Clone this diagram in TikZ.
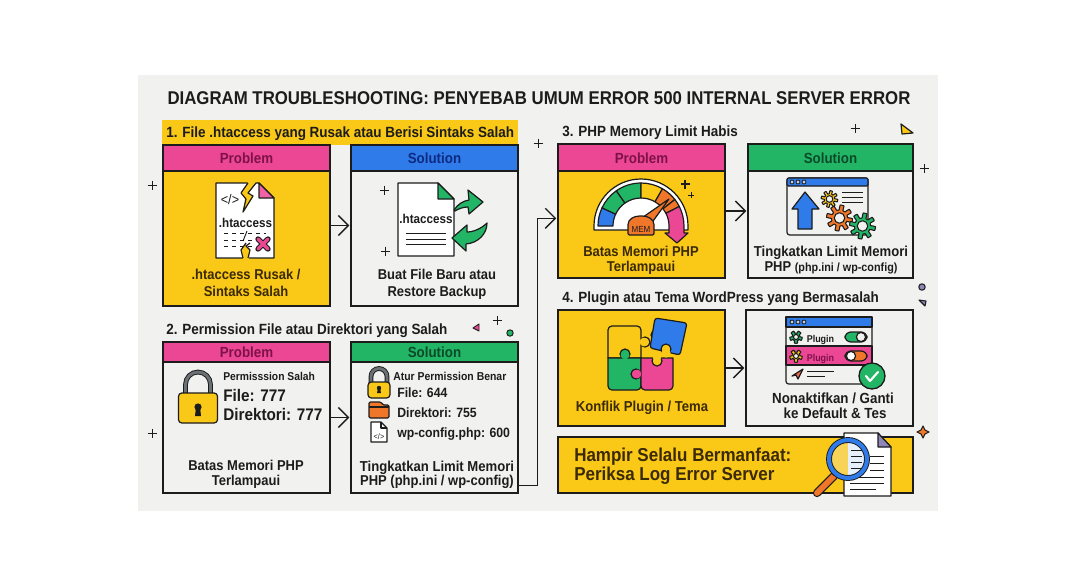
\documentclass[tikz,border=0pt]{standalone}
\usepackage{fontspec}
\setmainfont[FakeStretch=0.91]{Liberation Sans}
\usetikzlibrary{arrows.meta,fit,calc}
\definecolor{bgc}{HTML}{F1F1F0}
\definecolor{ink}{HTML}{1C1C1C}
\definecolor{yel}{HTML}{FAC817}
\definecolor{pnk}{HTML}{EC4795}
\definecolor{blu}{HTML}{2F7BEA}
\definecolor{grn}{HTML}{22B566}
\definecolor{org}{HTML}{F0762A}
\definecolor{gry}{HTML}{6B7074}
\definecolor{pdark}{HTML}{7E1248}
\definecolor{bdark}{HTML}{0E2A80}
\definecolor{gdark}{HTML}{0B4A28}
\definecolor{ydark}{HTML}{3A2A06}
\definecolor{lav}{HTML}{8F86B8}
\tikzset{
  x=0.75pt,y=-0.75pt,
  panel/.style={draw=ink,line width=1pt,inner sep=0pt},
  head/.style={draw=ink,line width=1pt,inner sep=0pt},
  lbl/.style={inner sep=0pt,text=ink,font=\bfseries,text height=0.86em,text depth=0em},
  ic/.style={draw=ink,line width=0.9pt,line join=round},
  thin line/.style={draw=ink,line width=0.7pt},
  conn/.style={draw=ink,line width=1pt,shorten >=0.8pt,-{Straight Barb[length=7.5pt,width=15pt,line width=1pt]}},
  deco/.style={draw=ink,line width=0.7pt},
}
\newcommand\fs[1]{\fontsize{#1}{#1}\selectfont}
\newcommand\plusmark[3][4.5]{\draw[deco] (#2-#1,#3) -- (#2+#1,#3) (#2,#3-#1) -- (#2,#3+#1);}
% name, x1,y1,x2,y2, body fill
\newcommand\panelbox[6]{\node[panel,fill=#6,fit={(#2,#3)(#4,#5)}] (#1) {};}
% name, x1,y1,x2,y2, fill, text, textcolour
\newcommand\headbox[8]{\node[head,fill=#6,fit={(#2,#3)(#4,#5)}] (#1) {};
  \node[lbl,text=#8,font=\bfseries\fs{11}] (#1t) at (#1) {#7};}
\newcommand\gearicon[5]{%
  \draw[ic,fill=#4,line width=0.8pt] plot[sharp plot,samples=121,domain=0:360,variable=\t]
   ({#1+#3*(0.84+0.2*max(-1,min(1,4*sin(\t*#5))))*cos(\t)},{#2+#3*(0.84+0.2*max(-1,min(1,4*sin(\t*#5))))*sin(\t)}) -- cycle;
  \draw[ic,fill=bgc,line width=0.8pt] (#1,#2) circle (#3*0.42);}
\newcommand\lockicon[6]{% cx, top of shackle, body top, body bottom, half width, shackle half width
  \draw[draw=ink,line width=3.6pt] (#1-#6,#3+2) -- (#1-#6,#2+#6) arc (180:360:#6) -- (#1+#6,#3+2);
  \draw[draw=gry,line width=2.2pt] (#1-#6,#3+2) -- (#1-#6,#2+#6) arc (180:360:#6) -- (#1+#6,#3+2);
  \draw[ic,fill=yel,rounded corners=2.5pt] (#1-#5,#3) rectangle (#1+#5,#4);}
\begin{document}
\begin{tikzpicture}
\useasboundingbox (0,0) rectangle (1076,586);
\fill[white] (0,0) rectangle (1076,586);
\fill[bgc] (138,75) rectangle (938,511);

\node[lbl,font=\bfseries\fs{13.85}] (title) at (539,99) {DIAGRAM TROUBLESHOOTING: PENYEBAB UMUM ERROR 500 INTERNAL SERVER ERROR};

% section 1
\fill[yel] (162,120) rectangle (518,145);
\node[lbl,font=\bfseries\fs{11.1},anchor=west] (sec1) at (166,132) {1. File .htaccess yang Rusak atau Berisi Sintaks Salah};
\panelbox{p1}{163}{145}{330}{306}{yel}
\headbox{p1h}{163}{145}{330}{171}{pnk}{Problem}{pdark}
\panelbox{s1}{351}{145}{518}{306}{bgc}
\headbox{s1h}{351}{145}{518}{171}{blu}{Solution}{bdark}

% broken doc
\draw[ic,fill=white] (216,183) -- (259,183) -- (274,198) -- (274,258) -- (216,258) -- cycle;
\draw[ic,fill=pnk!85!white] (259,183) -- (274,198) -- (259,198) -- cycle;
\fill[yel] (248,182) -- (256,182) -- (248,194) -- (253,197) -- (243,213) -- (245,199) -- (241,193) -- cycle;
\draw[ic] (248,183) -- (241,193) -- (246,199) -- (243,212) -- (253,196) -- (248,193) -- (256,183);
\fill[yel] (246,243) -- (241,250) -- (243,259) -- (249,259) -- (250,250) -- (246,246) -- cycle;
\draw[ic] (246,243) -- (241,250) -- (243,258) (250,243) -- (246,246) -- (250,250) -- (248,258);
\node[lbl,font=\fs{10.4}] (ic1a) at (230,199) {</>};
\node[lbl,font=\bfseries\fs{9.6},text=ink] (ic1b) at (245.5,222) {.htaccess};
\draw[thin line,dashed] (224,233) -- (266,233) (224,240) -- (258,240) (224,246) -- (254,246);
\draw[thin line] (243,241) -- (247,231);
\draw[draw=ink,line width=4pt,line cap=round] (258,239) -- (268,249) (268,239) -- (258,249);
\draw[draw=pnk,line width=2.6pt,line cap=round] (258,239) -- (268,249) (268,239) -- (258,249);
\node[lbl,text=ydark,font=\bfseries\fs{10.7}] (p1a) at (246,274) {.htaccess Rusak /};
\node[lbl,text=ydark,font=\bfseries\fs{10.7}] (p1b) at (246,291) {Sintaks Salah};

% restored doc
\draw[ic,fill=white] (398,183) -- (438,183) -- (454,199) -- (454,256) -- (398,256) -- cycle;
\draw[ic,fill=grn] (438,183) -- (454,199) -- (438,199) -- cycle;
\node[lbl,font=\bfseries\fs{9.6}] (ic2a) at (426,218) {.htaccess};
\draw[thin line] (406,233) -- (446,233) (406,239) -- (446,239) (406,244) -- (446,244);
\draw[ic,fill=grn] (454,210) .. controls (458,204) and (463,201) .. (469,200) -- (468,190) -- (483,202) -- (469,214) -- (468,207) .. controls (463,207) and (458,209) .. (455,211) -- cycle;
\draw[ic,fill=grn] (452,238) -- (467,225) -- (467,232) .. controls (474,232) and (482,228) .. (487,223) .. controls (487,234) and (478,243) .. (466,244) -- (466,251) -- cycle;
\plusmark{384}{190}
\plusmark{385}{251}
\node[lbl,font=\bfseries\fs{10.7}] (s1a) at (437,274) {Buat File Baru atau};
\node[lbl,font=\bfseries\fs{10.7}] (s1b) at (437,291) {Restore Backup};
\draw[conn] (p1) -- (s1.west);

% section 2
\node[lbl,font=\bfseries\fs{11.1},anchor=west] (sec2) at (166,329) {2. Permission File atau Direktori yang Salah};
\panelbox{p2}{163}{342}{330}{493}{bgc}
\headbox{p2h}{163}{342}{330}{362}{pnk}{Problem}{pdark}
\panelbox{s2}{351}{342}{518}{493}{bgc}
\headbox{s2h}{351}{342}{518}{362}{grn}{Solution}{gdark}
\lockicon{198}{372}{393}{423}{19.5}{12.5}
\fill[ink] (198,407) circle (3.6);
\fill[ink] (196,407) -- (200,407) -- (201,416) -- (195,416) -- cycle;
\node[lbl,font=\bfseries\fs{8.5},anchor=west] (p2a) at (223,374.5) {Permisssion Salah};
\node[lbl,font=\bfseries\fs{12.6},anchor=west] (p2b) at (223,395.5) {File: 777};
\node[lbl,font=\bfseries\fs{12.6},anchor=west] (p2c) at (223,415) {Direktori: 777};
\node[lbl,font=\bfseries\fs{10.7}] (p2d) at (246,465) {Batas Memori PHP};
\node[lbl,font=\bfseries\fs{10.7}] (p2e) at (246,479.5) {Terlampaui};
\lockicon{379}{368.5}{382}{398}{11}{8}
\fill[ink] (379,388) circle (2.2);
\fill[ink] (378,388) -- (380,388) -- (381,393) -- (377,393) -- cycle;
\node[lbl,font=\bfseries\fs{8.6},anchor=west] (s2a) at (393,374.5) {Atur Permission Benar};
\node[lbl,font=\bfseries\fs{10.1},anchor=west] (s2b) at (397,392) {File: 644};
\node[lbl,font=\bfseries\fs{10.1},anchor=west] (s2c) at (397,411.5) {Direktori: 755};
\node[lbl,font=\bfseries\fs{10.1},anchor=west] (s2d) at (397,431.5) {wp-config.php: 600};
\draw[ic,fill=org,rounded corners=1pt] (369,402) -- (381,402) -- (383,405) -- (389,405) -- (389,418) -- (369,418) -- cycle;
\draw[ic] (369,407) -- (389,407);
\draw[ic,fill=white] (371,422) -- (381,422) -- (387,428) -- (387,442) -- (371,442) -- cycle;
\draw[ic] (381,422) -- (381,428) -- (387,428);
\node[lbl,font=\fs{6}] (s2e) at (379,433.5) {</>};
\node[lbl,font=\bfseries\fs{10.8}] (s2f) at (437,465.5) {Tingkatkan Limit Memori};
\node[lbl,font=\bfseries\fs{10.7}] (s2g) at (437,480) {PHP (php.ini / wp-config)};
\draw[conn] (p2) -- (s2.west);

% section 3
\node[lbl,font=\bfseries\fs{11.1},anchor=west] (sec3) at (562,131) {3. PHP Memory Limit Habis};
\panelbox{p3}{558}{144}{725}{278}{yel}
\headbox{p3h}{558}{144}{725}{171}{pnk}{Problem}{pdark}
\panelbox{s3}{748}{144}{913}{278}{bgc}
\headbox{s3h}{748}{144}{913}{171}{grn}{Solution}{gdark}
% gauge
\draw[ic,fill=white] (594,230) -- (594,226) arc (180:360:47) -- (688,230) -- cycle;
\foreach \aa/\ab/\cc in {180/205/blu,205/235/grn,235/270/grn,270/300/yel,300/322/org,322/333/org}{
  \draw[ic,fill=\cc] (641,226) ++(\aa:43) arc (\aa:\ab:43) -- ++(\ab+180:15) arc (\ab:\aa:28) -- cycle;
}
\draw[ic,fill=pnk] (679.3,206.5) arc (-27:0:43) -- (684,233) -- (688,233) -- (677,243) -- (665,233) -- (669,233) -- (669,226) arc (0:-27:28) -- cycle;
\draw[ic,fill=org] (636,222) -- (669,199) -- (648,228) -- cycle;
\draw[ic,fill=org,rounded corners=1pt] (628,235) -- (628,226) .. controls (628,219) and (634,216) .. (641,216) .. controls (648,216) and (654,219) .. (654,226) -- (654,235) -- cycle;
\node[lbl,font=\fs{6.6}] (mem) at (641,227) {MEM};
\plusmark[2.8]{691}{195}
\draw[draw=ink,line width=0.9pt] (680.5,184) -- (689.5,184) (685,179.5) -- (685,188.5);
\node[lbl,text=ydark,font=\bfseries\fs{10.7}] (p3a) at (641,251) {Batas Memori PHP};
\node[lbl,text=ydark,font=\bfseries\fs{10.7}] (p3b) at (641,266) {Terlampaui};
% settings window
\draw[ic,fill=bgc,rounded corners=2pt] (787,178) rectangle (868,235);
\draw[ic,fill=blu,rounded corners=1pt] (787,178) rectangle (868,186);
\foreach \dx in {792,798,804}{\draw[draw=ink,line width=0.6pt,fill=bgc!70!blu] (\dx,182) circle (2);}
\draw[ic,fill=blu] (805,192) -- (819,209) -- (812,209) -- (812,229) -- (798,229) -- (798,209) -- (792,209) -- cycle;
\draw[thin line] (842,192) -- (863,192) (842,197) -- (863,197) (842,202) -- (863,202);
\gearicon{829.5}{199}{8}{yel}{8}
\gearicon{839.5}{218}{12.5}{org}{8}
\gearicon{862.5}{226}{12.5}{grn}{8}
\node[lbl,font=\bfseries\fs{10.8}] (s3a) at (831,251) {Tingkatkan Limit Memori};
\node[lbl,font=\bfseries\fs{10.7}] (s3b) at (831,266) {PHP {\fs{8.9}(php.ini / wp-config)}};
\draw[conn] (p3) -- (s3.west);

% section 4
\node[lbl,font=\bfseries\fs{11.1},anchor=west] (sec4) at (562,297) {4. Plugin atau Tema WordPress yang Bermasalah};
\panelbox{p4}{558}{310}{725}{426}{yel}
\panelbox{s4}{746}{310}{913}{426}{bgc}
% puzzle
\draw[ic,fill=yel] (645,342) circle (5);
\draw[ic,fill=yel] (641,358) -- (608,358) [rounded corners=3pt] -- (608,326) -- (641,326) [sharp corners] -- cycle;
\fill[yel] (644,342) circle (4.4);
\draw[ic,fill=grn] (625,354) circle (5);
\draw[ic,fill=grn] (641,358) -- (608,358) [rounded corners=3pt] -- (608,390) -- (641,390) [sharp corners] -- cycle;
\fill[grn] (625,355) circle (4.4);
\draw[ic,fill=pnk] (641,358) -- (673,358) [rounded corners=3pt] -- (673,390) -- (641,390) [sharp corners] -- cycle;
\draw[ic,fill=pnk] (636,374) circle (5);
\fill[pnk] (637,374) circle (4.4);
\draw[ic,fill=yel] (657,361) circle (5);
\fill[yel] (657,357) circle (4.4);
\draw[ic,fill=blu] (656,335) circle (5);
\draw[ic,fill=blu,rounded corners=2pt] (655,318) -- (687,323) -- (680,355) -- (650,348) -- cycle;
\fill[blu] (657,335) circle (4.4);
\draw[ic,fill=yel] (666,349) circle (5);
\fill[yel] (666,353) circle (4.6);
\node[lbl,text=ydark,font=\bfseries\fs{10.8}] (p4a) at (642,406) {Konflik Plugin / Tema};
% plugin window
\draw[ic,fill=bgc,rounded corners=2pt] (786,317) rectangle (872,384);
\draw[ic,fill=blu] (786,317) rectangle (872,327);
\foreach \dx in {792,798,804}{\draw[draw=ink,line width=0.6pt,fill=bgc!70!blu] (\dx,322) circle (2);}
\draw[ic,fill=pnk] (786,346) rectangle (872,365);
\gearicon{796}{337}{6}{grn}{5}
\gearicon{796}{356}{6}{yel}{5}
\node[lbl,font=\bfseries\fs{7.4},anchor=west] (pl1) at (806.5,336.5) {Plugin};
\node[lbl,text=pdark,font=\bfseries\fs{7.4},anchor=west] (pl2) at (806.5,356) {Plugin};
\draw[ic,fill=grn,rounded corners=4.5pt] (845,332) rectangle (867,342);
\draw[ic,fill=bgc] (861,337) circle (4.6);
\draw[ic,fill=org,rounded corners=4.5pt] (845,351) rectangle (867,361);
\draw[ic,fill=white] (851,356) circle (4.6);
\draw[ic,fill=org!70!pnk] (803,369) -- (798,379) -- (796,375) -- (792,376) -- cycle;
\draw[thin line] (807,371) -- (834,371) (807,376) -- (825,376);
\draw[ic,fill=grn,line width=1pt] (872,376) circle (13);
\draw[draw=white,line width=1.6pt,line cap=round,line join=round] (866,376) -- (870,381) -- (878,372);
\node[lbl,font=\bfseries\fs{11}] (s4a) at (833,398) {Nonaktifkan / Ganti};
\node[lbl,font=\bfseries\fs{11}] (s4b) at (835,413) {ke Default \& Tes};
\draw[conn] (p4) -- (s4.west);

% banner
\node[panel,fill=yel,fit={(558,437)(913,493)}] (bn) {};
\node[lbl,text=ydark,font=\bfseries\fs{14},anchor=west] (bna) at (574,456) {Hampir Selalu Bermanfaat:};
\node[lbl,text=ydark,font=\bfseries\fs{14},anchor=west] (bnb) at (574,475) {Periksa Log Error Server};
\draw[ic,fill=white] (844,433) -- (878,433) -- (891,447) -- (891,496) -- (844,496) -- cycle;
\draw[ic,fill=lav] (878,433) -- (891,447) -- (878,447) -- cycle;
\draw[thin line] (850,489) -- (876,489) (850,483) -- (884,483) (850,477) -- (884,477) (870,470) -- (884,470) (870,463) -- (884,463) (870,456) -- (884,456);
\draw[draw=ink,line width=6.2pt,line cap=round] (817,493) -- (834,476);
\draw[draw=org,line width=4.4pt,line cap=round] (817,493) -- (834,476);
\draw[draw=ink,line width=1.5pt] (833,475) -- (838,470);
\fill[yel!70!bgc] (848,441) arc (270:90:18) -- cycle;
\fill[blu!12!white] (848,441) arc (-90:90:18) -- cycle;
\draw[thin line] (851,450) -- (862,450) (851,456) -- (862,456) (851,462) -- (862,462) (851,468) -- (862,468);
\draw[draw=ink,line width=4.4pt] (848,459) circle (19);
\draw[draw=blu,line width=3pt] (848,459) circle (19);

% connector
\coordinate (c1) at ($(s2.south east)+(0,-8)$);
\coordinate (c2) at ($(p3.north west)+(0,75)$);
\draw[conn] (c1) -| ($(c2)+(-20,0)$) -- (c2);

% decorations
\plusmark{152}{185}
\plusmark{538}{143}
\plusmark{152}{433}
\plusmark{855}{128}
\plusmark{924}{168}
\plusmark{497}{320}
\draw[ic,fill=yel] (901,124) -- (913,133) -- (902,134) -- cycle;
\draw[ic,fill=pnk,line width=0.7pt] (479,324) -- (479,331) -- (473,328) -- cycle;
\draw[ic,fill=grn,line width=0.7pt] (510,333) circle (3.2);
\draw[ic,fill=lav,line width=0.8pt] (922,287) circle (3.2);
\draw[ic,fill=lav,line width=0.8pt] (919,300) -- (926,301) -- (925,306) -- cycle;
\draw[ic,fill=org,line width=0.8pt] (923,426) -- (925,430) -- (929,432) -- (925,434) -- (923,438) -- (921,434) -- (917,432) -- (921,430) -- cycle;
\end{tikzpicture}
\end{document}
